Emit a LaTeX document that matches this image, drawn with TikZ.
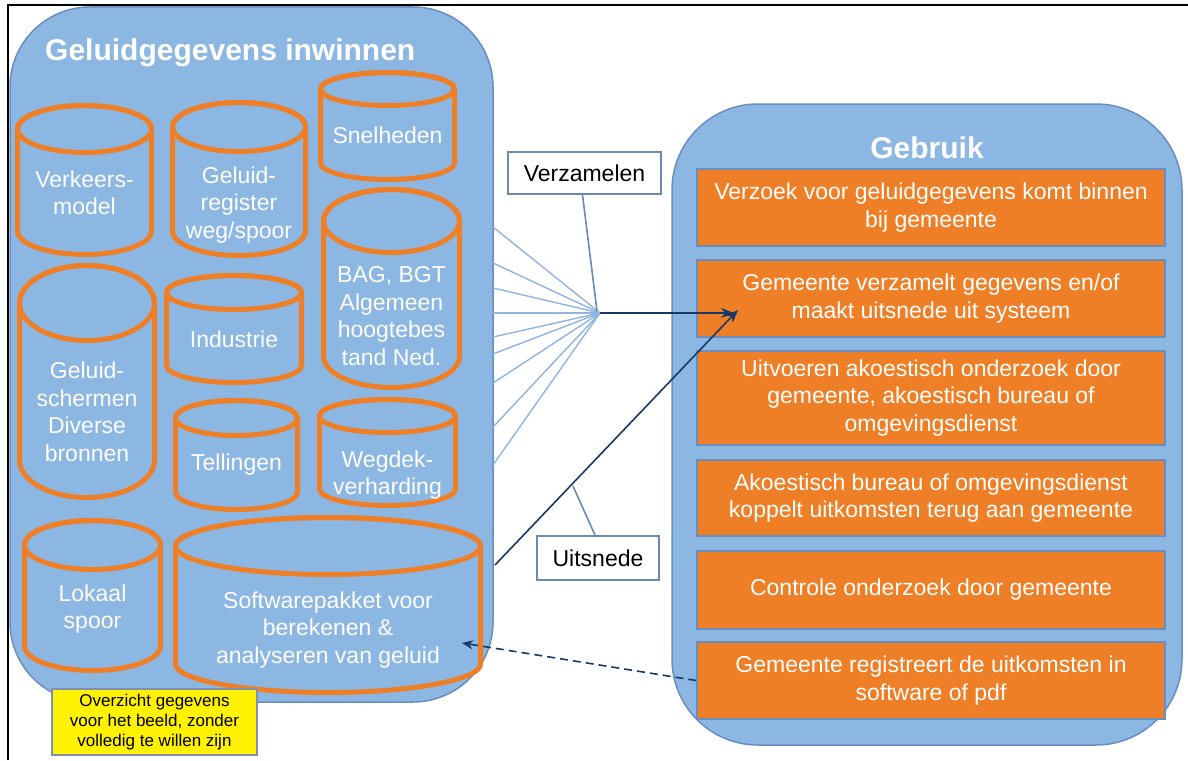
\documentclass[tikz,border=0pt]{standalone}
\usepackage{fontspec}
\setmainfont{Liberation Sans}
\usetikzlibrary{arrows.meta}
\definecolor{bgblue}{HTML}{8DB7E3}
\definecolor{edgeblue}{HTML}{6A8DBF}
\definecolor{orng}{HTML}{EF7F26}
\definecolor{navy}{HTML}{1A3866}
\definecolor{fanblue}{HTML}{8DB4E2}
\definecolor{callblue}{HTML}{6A8AB5}
\definecolor{noteedge}{HTML}{8090B0}
% name, xl, xr, ytop, ry, ybot, text, text-y
\newcommand\dbcyl[8]{%
  \pgfmathsetmacro\cylxl{#2+2.5}
  \pgfmathsetmacro\cylxr{#3-2.5}
  \pgfmathsetmacro\cylcx{(#2+#3)/2}
  \pgfmathsetmacro\cylrx{(#3-#2)/2-2.5}
  \pgfmathsetmacro\cylry{#5-2.5}
  \pgfmathsetmacro\cylyt{#4+#5}
  \pgfmathsetmacro\cylyb{#6-#5}
  \filldraw[cylst] (\cylxl,\cylyt) -- (\cylxl,\cylyb)
     arc[start angle=180,end angle=360,x radius=\cylrx pt,y radius=\cylry pt]
     -- (\cylxr,\cylyt)
     arc[start angle=0,end angle=180,x radius=\cylrx pt,y radius=\cylry pt] -- cycle;
  \draw[cylst,fill=none] (\cylcx,\cylyt) ellipse[x radius=\cylrx pt,y radius=\cylry pt];
  \node[cyltext] (#1) at (\cylcx,#8) {#7};
}
\begin{document}
\begin{tikzpicture}[x=1pt,y=-1pt,
  bigbox/.style={draw=edgeblue,fill=bgblue,line width=1.5pt,inner sep=0pt},
  cylst/.style={draw=orng,fill=bgblue,line width=5pt,line join=round},
  cyltext/.style={align=center,text=white,inner sep=0pt,font=\fontsize{23}{27.5}\selectfont},
  stepbox/.style={draw=edgeblue,fill=orng,line width=1.5pt,minimum width=468pt,inner sep=0pt,
     align=center,text=white,font=\fontsize{23}{27.5}\selectfont},
  titletext/.style={text=white,inner sep=0pt,font=\bfseries\fontsize{30}{36}\selectfont},
  labelbox/.style={draw=callblue,fill=white,line width=1.8pt,inner sep=0pt,font=\fontsize{23}{27.5}\selectfont},
  fan/.style={draw=fanblue,line width=1.4pt},
  callout/.style={draw=callblue,line width=1.6pt},
  navyarrow/.style={draw=navy,line width=1.6pt,-{Stealth[length=13pt,width=10pt]}},
]
\useasboundingbox (0,0) rectangle (1188,760);
% frame
\draw[line width=2.5pt,black] (8,760) -- (8,5) -- (1188,5);

% big containers
\node[bigbox,rounded corners=80pt,minimum width=483pt,minimum height=695pt] (inw) at (251.5,354.5) {};
\node[bigbox,rounded corners=86pt,minimum width=510pt,minimum height=641pt] (geb) at (927,424.5) {};
\node[titletext,anchor=base west] (inwT) at (45,60) {Geluidgegevens inwinnen};
\node[titletext,anchor=base] (gebT) at (927,158) {Gebruik};

% cylinders
\dbcyl{c1}{15}{154}{103}{26}{257}{Verkeers-\\model}{193}
\dbcyl{c2}{170}{308}{100}{27}{258}{Geluid-\\register\\weg/spoor}{205}
\dbcyl{c3}{318}{457}{70}{19}{182}{Snelheden}{135}
\dbcyl{c4}{321}{462}{187}{34}{390}{BAG, BGT\\Algemeen\\hoogtebes\\tand Ned.}{316}
\dbcyl{c5}{164}{304}{273}{19.5}{385}{Industrie}{339}
\dbcyl{c6}{17}{157}{263}{40}{500}{Geluid-\\schermen\\Diverse\\bronnen}{412}
\dbcyl{c7}{173}{300}{398}{20}{512}{Tellingen}{465}
\dbcyl{c8}{317}{458}{397}{19}{508}{Wegdek-\\verharding}{475}
\dbcyl{c9}{22}{163}{518}{27}{673}{Lokaal\\spoor}{609}
\dbcyl{c10}{173}{483}{515}{31}{695}{Softwarepakket voor\\berekenen \&\\analyseren van geluid}{630}

% steps on the right
\node[stepbox,minimum height=77pt] (r1) at (931,207.5) {Verzoek voor geluidgegevens komt binnen\\bij gemeente};
\node[stepbox,minimum height=77pt] (r2) at (931,298.5) {Gemeente verzamelt gegevens en/of\\maakt uitsnede uit systeem};
\node[stepbox,minimum height=94pt] (r3) at (931,398) {Uitvoeren akoestisch onderzoek door\\gemeente, akoestisch bureau of\\omgevingsdienst};
\node[stepbox,minimum height=76pt] (r4) at (931,498) {Akoestisch bureau of omgevingsdienst\\koppelt uitkomsten terug aan gemeente};
\node[stepbox,minimum height=78pt] (r5) at (931,590) {Controle onderzoek door gemeente};
\node[stepbox,minimum height=77pt] (r6) at (931,680.5) {Gemeente registreert de uitkomsten in\\software of pdf};

% note
\node[draw=noteedge,fill=yellow,line width=1.5pt,minimum width=205pt,minimum height=66pt,inner sep=0pt,
  align=center,font=\fontsize{17}{20}\selectfont] (note) at (154.5,722)
  {Overzicht gegevens\\voor het beeld, zonder\\volledig te willen zijn};

% fan of collected data
\coordinate (hub) at (600,313);
\foreach \yy [count=\i] in {227,263,288,313,337,354,383,427,465}{
  \coordinate (fan\i) at (493,\yy);
  \draw[fan] (fan\i) -- (hub);
}

% labels with callouts
\node[labelbox,minimum width=153pt,minimum height=42pt] (vz) at (584.5,173) {Verzamelen};
\node[labelbox,minimum width=122pt,minimum height=44pt] (ui) at (598,558) {Uitsnede};
\coordinate (vzpt) at (597,311);
\coordinate (uipt) at (573,486);
\draw[callout] ([xshift=-2pt]vz.south) -- (vzpt);
\draw[callout] ([xshift=-3pt]ui.north) -- (uipt);

% arrows
\coordinate (t1) at (734,313);
\coordinate (s2) at (495,565);
\coordinate (t2) at (738,310);
\coordinate (d2) at (462,643);
\draw[navyarrow] (hub) -- (t1);
\draw[navyarrow] (s2) -- (t2);
\draw[navyarrow,dash pattern=on 8pt off 5pt,-{Stealth[length=11pt,width=9pt]}] (r6.west) -- (d2);
\end{tikzpicture}
\end{document}
